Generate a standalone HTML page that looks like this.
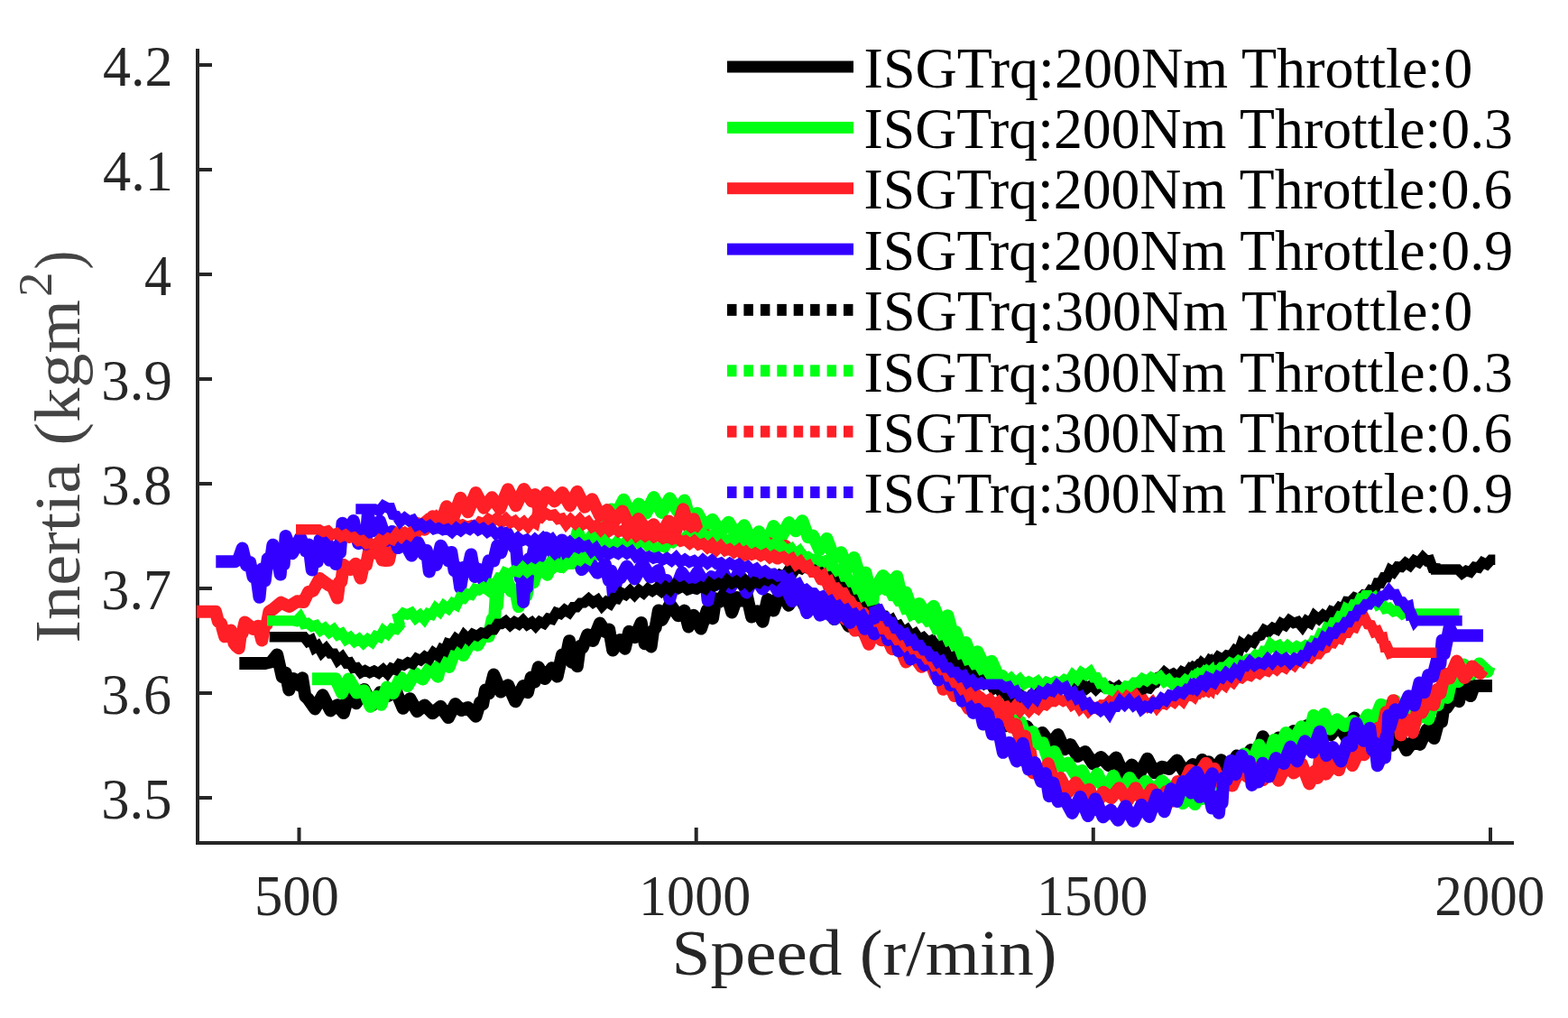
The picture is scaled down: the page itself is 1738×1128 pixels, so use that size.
<!DOCTYPE html><html><head><meta charset="utf-8"><title>Inertia vs Speed</title><style>html,body{margin:0;padding:0;background:#fff;overflow:hidden;}svg{display:block;}text{font-family:"Liberation Serif",serif;}</style></head><body>
<svg width="1738" height="1128" viewBox="0 0 1738 1128">
<rect width="1738" height="1128" fill="#fff"/>
<g stroke="#262626" stroke-width="4" fill="none">
<path d="M219 54V934H1678"/>
<path d="M219 72H235"/>
<path d="M219 188H235"/>
<path d="M219 304H235"/>
<path d="M219 420H235"/>
<path d="M219 536H235"/>
<path d="M219 652H235"/>
<path d="M219 768H235"/>
<path d="M219 884H235"/>
<path d="M331.5 934V917"/>
<path d="M771.7 934V917"/>
<path d="M1211.8 934V917"/>
<path d="M1652 934V917"/>
</g>
<path d="M265.3 735.0 L293.7 735.0 L301.0 733.2 L307.2 725.5 L312.8 750.2 L316.6 745.4 L320.3 764.4 L325.5 752.1 L331.9 759.4 L335.1 751.3 L338.3 771.5 L341.4 774.2 L349.1 785.4 L357.7 770.3 L366.3 787.4 L373.9 781.3 L380.9 790.1 L386.7 769.1 L394.7 779.2 L403.6 763.9 L412.4 781.6 L421.2 767.5 L430.0 771.0 L438.4 764.8 L446.7 784.8 L454.4 774.2 L462.2 788.2 L470.6 781.4 L479.4 790.3 L488.3 782.8 L497.0 795.1 L504.6 780.1 L511.5 786.9 L518.6 784.0 L527.5 793.7 L532.3 778.1 L535.1 780.4 L538.0 764.6 L542.0 768.2 L547.3 747.6 L555.1 766.5 L563.1 759.2 L571.3 777.3 L579.9 760.1 L584.9 767.2 L588.7 750.6 L592.6 755.7 L596.8 739.2 L604.1 751.9 L611.8 740.2 L617.6 749.6 L623.0 725.6 L627.0 730.1 L631.0 710.2 L634.0 734.0 L636.8 723.9 L639.8 738.2 L642.8 716.1 L645.8 717.4 L651.2 703.3 L657.3 709.9 L664.9 690.6 L671.2 700.2 L675.2 697.6 L679.2 720.5 L686.9 709.1 L692.7 718.7 L697.3 699.7 L703.6 706.2 L710.7 690.0 L714.7 713.3 L718.7 709.2 L721.6 716.4 L724.0 698.8 L726.6 695.5 L729.9 676.4 L733.7 686.9 L742.7 669.5 L751.7 682.2 L758.6 676.6 L763.2 694.5 L768.9 681.8 L777.0 696.6 L783.9 675.7 L790.0 685.2 L793.3 663.3 L797.1 667.0 L804.6 655.5 L811.2 678.5 L816.9 662.1 L822.3 665.5 L827.7 659.4 L833.1 683.5 L839.4 677.3 L845.4 688.8 L850.8 664.0 L857.4 676.6 L865.2 654.6 L874.1 670.7 L883.1 656.4 L891.9 671.6 L900.5 661.3 L908.6 674.0 L916.6 665.8 L924.7 686.1 L932.7 679.2 L940.8 693.7 L948.8 685.0 L956.8 700.6 L964.8 694.3 L969.0 704.1 L969.0 681.0 L973.5 695.7 L980.7 687.7 L987.9 701.8 L995.1 700.3 L1003.1 712.5 L1010.9 706.0 L1018.1 727.8 L1025.3 715.1 L1032.5 738.1 L1039.2 726.3 L1045.6 746.0 L1052.0 738.8 L1058.3 762.1 L1064.7 757.6 L1071.1 769.6 L1077.7 770.6 L1084.9 787.0 L1092.1 779.6 L1099.3 792.6 L1106.7 787.0 L1114.3 804.3 L1122.0 801.0 L1129.7 812.3 L1138.1 805.1 L1146.7 818.2 L1155.4 812.0 L1164.4 824.8 L1172.6 814.1 L1179.8 830.3 L1186.6 825.1 L1194.5 838.0 L1202.9 833.0 L1211.6 846.4 L1220.4 838.9 L1229.1 848.3 L1237.1 839.5 L1245.5 858.1 L1254.5 847.6 L1263.3 857.0 L1271.8 840.8 L1279.8 856.3 L1287.9 849.7 L1296.0 852.0 L1304.7 842.4 L1313.4 856.5 L1322.1 846.9 L1330.9 860.7 L1339.7 844.2 L1341.5 854.8 L1332.6 842.0 L1323.8 862.6 L1319.7 849.1 L1328.5 862.0 L1336.7 847.7 L1344.8 857.0 L1353.5 842.3 L1362.3 852.1 L1371.0 837.4 L1379.0 843.7 L1386.4 831.1 L1392.8 839.7 L1399.8 816.2 L1408.6 832.7 L1417.3 817.4 L1425.9 829.0 L1433.9 810.1 L1441.5 823.6 L1448.7 804.1 L1457.0 811.2 L1465.8 802.5 L1474.8 814.4 L1483.6 803.9 L1492.3 816.9 L1501.0 795.6 L1509.9 812.0 L1518.8 801.9 L1526.8 819.1 L1534.9 803.6 L1542.9 825.8 L1551.0 815.3 L1559.0 831.3 L1566.7 821.1 L1573.9 824.9 L1581.6 808.4 L1589.6 818.0 L1594.2 800.7 L1598.0 799.7 L1600.8 780.2 L1603.6 784.2 L1611.9 771.9 L1617.1 777.2 L1621.6 755.3 L1630.0 771.1 L1634.0 760.0 L1654.0 760.0" fill="none" stroke="#000000" stroke-width="14" stroke-linejoin="round" stroke-linecap="butt"/>
<path d="M346.0 752.3 L372.0 752.3 L379.0 768.0 L386.6 752.4 L395.4 767.4 L403.5 765.2 L410.6 782.7 L417.0 771.7 L422.6 780.7 L428.8 761.6 L435.7 768.2 L444.2 750.7 L451.7 760.0 L459.9 745.9 L468.5 752.6 L477.2 738.9 L485.2 749.7 L491.1 724.3 L497.9 738.9 L505.5 717.3 L513.5 726.0 L521.6 711.5 L529.6 714.7 L536.1 703.2 L541.7 705.0 L545.7 685.9 L548.0 687.7 L549.5 663.9 L551.0 671.1 L552.5 648.7 L554.8 651.5 L561.0 640.0 L566.4 654.8 L571.3 653.8 L574.9 672.1 L579.1 649.4 L583.5 659.8 L587.4 640.0 L591.3 645.3 L598.0 622.1 L606.6 636.7 L614.9 615.5 L621.9 628.0 L628.9 605.2 L634.7 612.3 L640.3 589.8 L647.7 606.8 L656.7 593.0 L664.5 601.5 L671.7 579.5 L675.2 585.7 L677.8 564.4 L682.4 571.0 L691.3 553.7 L699.8 572.3 L708.1 558.4 L716.2 568.6 L724.6 551.0 L733.4 567.9 L742.4 552.2 L751.1 566.2 L758.6 554.5 L765.6 578.1 L773.0 568.7 L781.0 583.2 L789.7 575.7 L798.7 589.6 L807.6 578.7 L816.6 593.1 L824.9 582.2 L833.3 599.8 L841.3 589.3 L849.4 605.2 L857.4 583.1 L866.0 594.9 L874.5 579.1 L882.0 588.3 L889.4 577.2 L895.8 595.3 L901.2 593.6 L908.4 609.2 L916.5 596.9 L924.5 618.1 L932.3 612.3 L939.5 629.6 L946.7 617.9 L953.9 641.1 L959.5 634.4 L964.3 654.3 L969.0 650.2 L969.9 652.4 L978.6 638.0 L987.2 647.5 L994.2 638.7 L998.8 659.1 L1004.1 656.4 L1011.3 677.6 L1018.8 668.9 L1026.9 681.3 L1034.9 671.8 L1042.9 691.2 L1050.4 682.2 L1055.3 700.3 L1059.5 700.3 L1064.9 716.6 L1070.5 712.0 L1076.9 729.3 L1083.5 722.2 L1091.5 738.9 L1099.1 732.7 L1106.3 748.9 L1110.8 749.3 L1113.6 771.2 L1116.5 767.1 L1119.3 783.2 L1122.2 779.9 L1125.0 801.9 L1131.1 799.9 L1138.1 818.6 L1144.6 810.9 L1150.2 824.2 L1155.9 823.4 L1162.2 842.2 L1168.6 832.9 L1176.2 849.3 L1183.9 845.5 L1191.7 857.9 L1199.4 853.9 L1207.7 871.8 L1216.3 857.5 L1225.1 876.9 L1234.1 859.7 L1243.0 878.4 L1252.0 861.9 L1261.0 876.2 L1270.0 865.8 L1279.0 877.7 L1288.0 865.3 L1296.9 874.3 L1304.9 868.2 L1311.2 890.0 L1317.6 883.5 L1324.5 891.0 L1331.5 872.8 L1338.9 879.8 L1343.0 867.0 L1334.4 883.3 L1325.8 871.3 L1317.5 885.7 L1325.5 876.7 L1332.7 885.0 L1338.3 868.6 L1344.0 871.9 L1352.0 861.5 L1359.2 862.0 L1364.8 848.6 L1370.5 848.4 L1379.1 835.4 L1387.5 846.4 L1395.6 825.6 L1404.1 843.2 L1412.3 819.7 L1418.6 827.9 L1425.4 812.0 L1434.1 820.2 L1442.4 805.3 L1450.5 815.8 L1456.1 792.7 L1461.8 802.5 L1467.8 791.1 L1474.2 807.7 L1481.8 797.3 L1490.5 804.1 L1499.5 799.0 L1508.0 805.3 L1516.1 792.3 L1523.4 798.6 L1530.6 780.7 L1538.6 784.2 L1546.1 776.6 L1552.5 791.1 L1559.3 788.5 L1567.3 803.2 L1575.4 789.9 L1583.4 796.8 L1588.6 777.2 L1593.6 781.3 L1598.8 760.2 L1604.4 772.9 L1610.0 747.6 L1616.3 755.2 L1622.7 736.5 L1630.9 747.0 L1639.7 735.5 L1648.7 744.1 L1650.7 738.3" fill="none" stroke="#00ff14" stroke-width="14" stroke-linejoin="round" stroke-linecap="butt"/>
<path d="M217.9 677.7 L239.0 677.7 L241.8 688.4 L245.1 691.2 L249.1 705.3 L256.0 698.6 L259.5 712.8 L262.3 716.2 L264.7 718.2 L266.7 703.6 L268.6 701.6 L271.4 689.5 L280.4 696.8 L286.2 693.7 L290.3 709.4 L293.0 693.5 L295.7 691.8 L298.4 677.6 L302.8 674.8 L311.5 667.7 L320.5 672.0 L329.4 666.3 L336.6 667.1 L342.0 655.8 L347.0 654.7 L354.4 641.0 L363.4 647.7 L368.9 650.5 L373.9 662.6 L376.1 645.1 L378.3 644.4 L380.8 626.0 L388.3 630.9 L394.3 624.7 L399.7 640.6 L403.0 626.0 L406.0 625.8 L409.4 608.6 L415.1 612.5 L419.7 608.7 L423.7 620.5 L427.6 621.1 L431.0 620.7 L434.7 603.6 L440.1 603.9 L446.5 590.9 L454.5 596.0 L462.6 580.1 L470.6 586.8 L479.4 572.3 L487.5 582.9 L494.9 561.2 L502.4 573.7 L510.4 551.8 L518.6 567.3 L527.4 545.9 L536.3 562.8 L545.3 551.3 L554.2 563.5 L563.0 542.3 L571.9 560.3 L580.7 542.0 L589.5 555.4 L593.0 548.1 L597.3 564.4 L605.9 545.8 L614.6 555.4 L623.5 546.0 L631.8 560.3 L639.8 544.8 L648.1 561.8 L656.4 553.2 L664.8 571.1 L673.1 565.1 L681.5 576.7 L690.0 566.5 L698.9 585.5 L707.7 575.1 L716.4 587.4 L724.5 581.3 L732.7 593.8 L741.2 577.5 L749.2 588.0 L757.3 564.3 L763.5 584.8 L768.9 575.2 L775.8 596.1 L783.0 593.6 L791.3 607.2 L799.7 600.7 L808.6 608.8 L817.4 600.6 L826.4 614.5 L835.4 604.3 L844.2 612.2 L852.9 602.3 L861.7 618.6 L870.6 605.1 L879.5 626.2 L887.8 614.5 L896.2 629.4 L903.7 621.7 L910.5 641.7 L916.7 633.4 L922.1 654.6 L927.1 647.8 L930.4 673.5 L933.8 665.5 L937.1 686.1 L941.2 680.0 L947.7 698.6 L955.2 694.5 L963.1 713.8 L969.0 697.7 L969.0 702.1 L972.0 693.6 L977.0 709.3 L982.0 704.1 L989.0 719.2 L996.2 714.6 L1004.3 733.4 L1012.6 726.4 L1021.4 738.8 L1029.5 729.1 L1036.7 748.0 L1041.2 742.7 L1045.6 763.8 L1050.8 754.7 L1058.0 771.0 L1065.5 770.4 L1073.6 785.1 L1082.1 769.8 L1090.8 786.7 L1099.3 779.1 L1107.9 795.1 L1114.5 788.9 L1120.9 805.5 L1126.2 802.6 L1131.2 820.3 L1136.0 815.4 L1139.1 835.8 L1142.1 834.0 L1145.2 856.5 L1148.3 853.8 L1154.7 861.5 L1161.8 846.1 L1168.1 865.7 L1175.2 861.9 L1183.6 878.1 L1192.3 867.3 L1200.5 878.6 L1207.3 874.7 L1214.5 892.2 L1222.9 877.8 L1231.7 884.2 L1240.7 873.3 L1249.7 887.4 L1258.6 873.2 L1267.5 889.0 L1276.5 874.9 L1284.8 886.3 L1292.7 877.0 L1299.1 887.7 L1305.4 865.9 L1311.8 869.7 L1318.2 855.8 L1326.6 863.1 L1335.4 850.7 L1344.3 862.3 L1336.8 845.7 L1328.0 860.3 L1319.1 853.4 L1323.8 870.4 L1331.7 856.7 L1338.9 867.7 L1345.9 851.7 L1352.2 866.7 L1358.7 862.5 L1365.9 870.6 L1373.7 853.0 L1382.4 860.6 L1391.1 851.0 L1399.9 864.1 L1408.9 852.7 L1417.2 864.8 L1425.3 848.4 L1434.1 856.6 L1442.8 846.4 L1451.3 868.4 L1457.5 854.3 L1460.3 861.9 L1463.2 837.5 L1469.7 857.7 L1477.7 847.2 L1484.0 853.3 L1490.4 829.5 L1499.0 848.1 L1506.4 832.1 L1512.0 836.3 L1517.6 819.4 L1522.6 821.3 L1527.6 806.6 L1532.2 809.0 L1536.3 789.1 L1540.3 794.7 L1544.2 776.2 L1547.1 797.1 L1549.9 788.1 L1552.8 814.4 L1558.8 797.2 L1565.9 811.7 L1570.9 787.6 L1575.9 789.6 L1583.5 774.6 L1589.3 780.9 L1592.8 764.1 L1596.4 768.3 L1601.3 746.5 L1606.7 751.6 L1614.8 732.6 L1623.3 751.0 L1631.9 738.4 L1640.6 746.1 L1644.0 741.7" fill="none" stroke="#ff1f26" stroke-width="14" stroke-linejoin="round" stroke-linecap="butt"/>
<path d="M239.3 622.3 L260.3 622.3 L264.4 619.6 L268.6 607.6 L273.1 626.4 L277.1 622.9 L280.6 639.4 L284.1 637.1 L287.5 661.8 L290.6 630.2 L293.7 643.4 L296.7 619.0 L299.6 624.0 L302.4 603.8 L305.2 622.8 L308.1 622.5 L310.7 636.6 L312.7 610.4 L314.7 625.2 L316.6 594.1 L324.1 613.2 L333.0 595.7 L338.9 610.6 L342.3 603.6 L345.7 631.5 L348.8 607.5 L351.7 622.3 L354.6 598.1 L357.7 605.5 L361.5 594.9 L365.3 620.8 L369.2 616.1 L372.1 625.0 L374.5 604.7 L377.0 612.3 L379.5 579.7 L385.1 593.3 L391.8 577.0 L397.3 602.2 L402.8 588.5 L405.5 602.8 L407.7 570.7 L413.3 588.3 L421.0 577.5 L428.2 599.1 L434.8 588.9 L441.2 607.1 L448.6 601.4 L456.2 615.6 L463.2 601.1 L469.5 614.3 L472.9 609.9 L475.8 633.4 L479.5 617.8 L483.6 625.9 L488.6 604.7 L497.0 621.4 L500.3 611.9 L503.6 632.3 L506.9 628.6 L510.2 651.3 L514.1 628.8 L518.0 633.0 L522.1 614.4 L526.4 639.0 L530.8 630.8 L536.4 644.4 L541.9 621.2 L547.2 621.6 L551.2 604.6 L555.2 612.5 L561.9 590.4 L570.4 607.4 L572.0 604.5 L573.6 624.5 L575.2 621.0 L576.8 640.8 L578.4 636.3 L580.1 667.1 L582.0 636.9 L584.1 651.0 L586.2 619.3 L588.8 626.5 L591.8 609.0 L596.8 621.7 L605.5 596.1 L614.3 615.8 L623.0 598.4 L631.7 622.2 L638.4 607.6 L644.8 631.1 L653.2 621.8 L662.1 634.7 L670.8 625.1 L674.9 643.3 L677.3 632.5 L679.9 659.2 L683.9 641.7 L687.9 640.2 L694.7 627.6 L703.5 641.4 L712.3 624.9 L721.0 639.6 L729.8 631.9 L735.2 654.7 L738.8 642.9 L742.3 663.5 L746.3 649.9 L750.3 649.0 L755.8 634.6 L764.6 646.9 L773.3 633.9 L780.3 645.8 L782.4 643.2 L784.6 665.3 L788.6 639.1 L792.6 648.3 L801.0 633.4 L809.8 650.8 L818.7 634.7 L827.5 656.4 L836.3 637.6 L845.1 652.5 L854.0 641.8 L862.4 655.0 L870.1 649.1 L878.0 666.1 L886.3 652.1 L894.4 679.1 L901.6 665.2 L908.9 681.7 L916.4 677.8 L925.0 685.9 L933.7 676.8 L942.2 689.9 L950.2 676.9 L958.5 696.7 L966.8 692.2 L969.0 702.4 L969.0 672.4 L972.8 696.2 L978.2 683.5 L984.4 709.0 L990.5 694.0 L996.2 721.5 L1001.8 707.2 L1009.3 730.4 L1017.0 723.2 L1024.7 736.9 L1032.4 724.7 L1039.9 753.5 L1047.1 734.6 L1053.6 759.3 L1060.0 749.8 L1066.4 776.7 L1072.7 762.6 L1078.7 789.9 L1084.3 777.5 L1089.8 802.5 L1094.8 790.5 L1099.8 813.6 L1105.5 802.6 L1111.9 833.8 L1118.9 822.9 L1126.9 843.4 L1133.7 823.8 L1140.1 852.5 L1147.0 845.1 L1154.2 865.9 L1158.9 857.1 L1162.9 882.2 L1167.4 867.6 L1172.8 888.1 L1179.7 884.7 L1188.4 900.9 L1197.4 883.0 L1206.0 904.0 L1214.0 885.2 L1222.6 905.3 L1231.2 897.5 L1239.2 908.8 L1247.7 893.2 L1256.4 909.9 L1265.2 891.8 L1273.9 904.9 L1282.6 880.7 L1290.6 899.3 L1298.1 874.1 L1304.4 888.0 L1311.5 866.0 L1320.2 878.6 L1328.9 863.7 L1337.6 882.9 L1343.9 857.3 L1335.2 873.7 L1326.4 855.6 L1317.7 865.0 L1323.5 864.5 L1329.8 883.1 L1338.1 869.6 L1343.5 895.6 L1347.5 882.9 L1351.0 900.8 L1352.8 881.0 L1354.6 889.5 L1356.3 861.8 L1359.5 864.8 L1364.5 842.9 L1369.5 858.0 L1376.4 837.3 L1381.9 850.4 L1384.7 843.7 L1387.6 869.9 L1390.4 861.5 L1394.9 866.6 L1399.5 845.7 L1406.3 860.6 L1414.3 840.1 L1423.1 846.0 L1430.4 827.6 L1437.7 843.4 L1446.4 821.3 L1454.8 833.6 L1462.9 810.7 L1470.2 837.1 L1477.4 828.0 L1486.4 843.5 L1493.3 822.8 L1498.3 826.3 L1503.3 801.4 L1511.5 820.8 L1518.3 806.8 L1521.1 831.0 L1524.0 823.1 L1526.8 848.2 L1532.5 835.3 L1535.0 839.5 L1536.4 816.2 L1537.8 822.1 L1539.2 792.8 L1540.5 806.0 L1546.4 786.3 L1553.3 789.8 L1561.3 771.2 L1567.7 781.5 L1573.4 756.5 L1578.7 767.2 L1583.3 747.9 L1588.2 749.6 L1594.2 726.1 L1596.4 735.4 L1598.6 709.4 L1600.8 724.3 L1606.6 695.6 L1610.7 704.3 L1644.0 704.3" fill="none" stroke="#3300ff" stroke-width="14" stroke-linejoin="round" stroke-linecap="butt"/>
<path d="M298.7 705.7 L337.0 705.7 L341.1 710.9 L345.1 708.9 L348.7 717.8 L352.2 715.4 L356.6 723.1 L361.5 718.3 L366.0 724.0 L370.2 724.1 L374.4 731.7 L379.2 727.8 L383.9 734.8 L387.7 734.0 L391.5 740.2 L395.7 739.6 L400.1 745.3 L404.7 742.8 L409.7 745.5 L414.7 743.2 L419.7 746.0 L424.7 741.8 L429.4 746.5 L433.9 740.4 L438.3 742.1 L442.8 736.0 L447.3 737.3 L452.3 733.9 L457.3 735.6 L461.8 729.7 L466.2 731.7 L470.9 727.4 L475.7 730.3 L480.5 723.1 L485.5 726.7 L489.4 719.4 L493.0 721.1 L496.5 713.0 L500.9 714.3 L505.3 707.7 L509.9 711.2 L514.5 703.6 L519.2 708.1 L524.0 702.5 L528.9 704.7 L533.9 701.0 L538.6 702.0 L543.1 697.7 L547.5 697.8 L551.7 691.3 L555.9 691.5 L560.6 688.2 L565.5 693.0 L570.3 689.0 L575.1 691.8 L579.8 687.3 L584.5 692.4 L589.4 689.4 L593.7 693.9 L598.3 688.8 L603.0 691.1 L607.6 685.2 L612.1 686.4 L616.6 678.7 L621.2 680.4 L626.0 675.7 L630.9 678.9 L635.3 672.8 L639.3 672.7 L643.3 668.1 L647.5 667.9 L652.5 663.5 L657.5 667.9 L662.4 664.7 L667.3 671.6 L672.1 666.7 L676.3 669.2 L680.3 662.9 L684.3 663.6 L688.7 656.7 L693.5 659.2 L698.4 654.4 L703.3 659.4 L708.3 653.8 L713.3 657.4 L718.2 652.3 L723.0 655.1 L727.9 651.7 L732.9 655.6 L737.9 650.3 L742.8 654.1 L747.7 648.3 L752.5 652.2 L757.4 649.6 L762.2 653.8 L767.1 652.0 L772.0 653.1 L776.9 650.1 L781.8 652.7 L786.7 646.0 L791.6 649.4 L796.5 646.3 L801.4 649.3 L806.2 642.9 L811.2 646.8 L816.2 643.7 L821.2 647.5 L826.1 643.3 L831.1 648.9 L835.9 644.8 L840.8 646.3 L845.6 641.1 L850.4 643.4 L855.1 638.9 L859.8 642.1 L864.6 636.7 L869.3 638.8 L874.1 631.5 L878.8 635.2 L883.4 628.4 L888.2 630.5 L892.9 626.2 L897.7 627.7 L902.6 622.8 L907.6 626.7 L911.5 625.4 L914.6 634.4 L917.9 632.1 L921.5 641.7 L925.0 640.1 L928.8 647.2 L932.8 645.6 L936.8 653.2 L940.8 652.7 L944.8 659.0 L948.8 659.1 L952.8 664.9 L957.1 662.7 L961.3 671.7 L965.5 668.9 L969.0 676.3 L972.4 676.0 L976.4 681.5 L980.4 682.1 L984.4 689.3 L988.4 686.6 L992.4 694.2 L996.5 692.7 L1001.0 700.3 L1005.4 697.4 L1009.9 704.5 L1014.4 701.7 L1018.9 708.3 L1023.4 706.1 L1028.3 711.3 L1033.1 709.1 L1037.3 716.0 L1040.9 714.4 L1044.4 721.9 L1047.9 720.8 L1051.8 729.5 L1055.8 727.9 L1059.8 733.9 L1063.8 734.0 L1067.8 740.5 L1071.8 739.7 L1075.8 747.0 L1079.8 745.3 L1083.8 753.5 L1087.8 751.4 L1092.1 758.2 L1096.6 756.4 L1101.1 763.6 L1105.4 760.7 L1109.7 767.7 L1114.0 765.8 L1118.3 774.2 L1123.1 770.0 L1128.0 776.7 L1132.9 771.3 L1137.7 776.4 L1142.5 770.7 L1147.2 772.3 L1152.0 766.7 L1156.7 771.0 L1161.3 764.1 L1165.9 766.5 L1170.5 759.6 L1175.1 762.8 L1180.1 758.5 L1185.1 761.9 L1190.0 756.6 L1195.0 760.8 L1199.9 757.6 L1204.7 762.9 L1209.6 759.0 L1214.6 764.0 L1219.6 759.1 L1224.6 762.5 L1229.6 760.5 L1234.6 763.5 L1239.5 760.2 L1244.3 765.1 L1249.2 762.5 L1254.2 767.3 L1259.2 764.1 L1264.1 766.5 L1269.0 762.0 L1273.8 763.0 L1277.6 758.1 L1280.7 756.9 L1283.9 750.2 L1287.0 748.8 L1290.7 744.6 L1295.6 748.6 L1300.4 746.2 L1305.3 749.9 L1310.1 744.2 L1315.0 746.5 L1319.5 740.1 L1324.0 741.6 L1328.4 736.8 L1333.4 739.3 L1338.3 735.6 L1343.3 737.9 L1341.8 734.4 L1336.8 739.8 L1331.9 738.2 L1327.0 742.2 L1322.1 739.8 L1317.5 743.7 L1322.4 738.8 L1327.2 741.4 L1331.9 734.5 L1336.4 738.3 L1340.9 731.4 L1345.5 734.1 L1350.3 727.7 L1355.2 730.5 L1359.8 726.0 L1364.3 727.1 L1368.8 720.5 L1372.7 722.8 L1376.2 712.9 L1380.4 715.7 L1384.9 709.6 L1389.4 712.0 L1393.5 705.5 L1397.5 704.2 L1401.5 698.0 L1405.8 700.2 L1410.7 695.6 L1415.5 697.8 L1420.1 690.6 L1424.6 693.1 L1429.1 687.3 L1433.8 690.4 L1438.6 688.8 L1443.5 694.7 L1448.0 688.0 L1452.5 690.6 L1457.0 682.2 L1461.8 686.1 L1466.6 681.3 L1471.4 684.5 L1475.9 677.1 L1480.4 678.6 L1484.7 672.9 L1488.7 674.7 L1492.7 666.5 L1496.7 666.9 L1501.5 662.0 L1506.3 663.8 L1511.1 659.1 L1515.1 660.2 L1519.1 653.9 L1523.1 655.1 L1526.7 646.1 L1530.3 646.2 L1533.8 639.8 L1537.3 639.8 L1540.9 631.7 L1544.5 634.1 L1549.0 627.8 L1553.4 628.4 L1558.0 623.7 L1562.8 626.9 L1567.7 620.9 L1572.5 623.3 L1577.2 617.5 L1581.5 621.7 L1584.8 620.9 L1588.0 629.6 L1591.2 629.8 L1591.3 631.0 L1616.0 631.0 L1620.6 635.6 L1625.2 632.3 L1629.8 633.9 L1634.4 628.2 L1638.9 629.1 L1643.3 623.3 L1648.0 625.5 L1652.7 620.3 L1657.3 620.3" fill="none" stroke="#000000" stroke-width="11.5" stroke-linejoin="miter" stroke-miterlimit="2" stroke-linecap="butt"/>
<path d="M296.0 687.7 L323.7 687.7 L328.3 688.5 L332.7 683.8 L336.8 691.3 L341.1 690.5 L345.8 694.3 L350.6 692.7 L355.3 698.6 L360.1 695.6 L365.0 700.8 L369.9 697.3 L374.4 703.5 L378.9 701.5 L383.6 708.7 L388.3 705.9 L393.1 711.1 L398.0 707.8 L402.8 712.7 L407.6 708.2 L412.3 711.5 L416.6 704.9 L420.8 706.3 L425.1 698.7 L429.9 702.5 L434.6 696.4 L439.4 697.4 L444.1 692.0 L443.6 693.8 L441.2 684.8 L442.9 684.3 L447.1 679.3 L451.4 681.0 L456.1 678.8 L460.8 685.0 L465.6 681.2 L470.3 686.3 L474.5 679.8 L478.6 681.1 L483.0 673.9 L487.5 677.8 L492.1 671.0 L497.0 674.6 L501.7 668.3 L505.9 670.7 L510.0 662.0 L514.2 663.2 L518.4 658.0 L522.5 659.1 L526.7 652.6 L530.9 653.9 L535.9 650.7 L540.8 654.3 L545.0 646.5 L549.2 646.8 L552.9 640.1 L556.4 640.5 L559.9 634.2 L564.7 636.2 L569.6 632.4 L574.6 633.9 L579.5 628.9 L584.5 633.6 L589.4 629.7 L594.4 632.4 L599.3 628.0 L604.2 629.3 L609.1 623.8 L614.1 629.0 L619.1 625.2 L624.1 628.4 L628.9 623.9 L633.5 624.9 L638.1 618.7 L642.8 621.0 L647.5 616.7 L652.3 619.5 L656.4 612.4 L660.4 614.3 L664.4 606.8 L668.8 609.2 L673.7 601.9 L678.5 606.0 L683.5 600.4 L688.5 605.2 L693.5 600.4 L698.3 604.7 L703.2 598.7 L708.0 602.4 L712.9 599.1 L717.7 604.6 L722.6 603.1 L727.4 607.9 L732.3 605.1 L736.8 606.7 L741.3 599.8 L745.8 601.5 L750.6 598.1 L755.4 598.8 L760.3 594.4 L765.3 598.3 L770.3 595.3 L775.2 598.0 L780.1 591.8 L784.9 595.1 L789.8 592.4 L794.6 598.4 L799.5 594.3 L804.3 599.2 L809.2 597.1 L814.0 601.7 L818.9 597.4 L823.7 599.0 L828.6 595.7 L833.4 601.2 L838.3 598.1 L843.1 603.3 L848.0 598.9 L852.8 606.3 L857.7 602.8 L862.5 608.0 L867.4 605.4 L872.2 609.9 L877.1 607.4 L881.7 613.8 L886.2 610.2 L890.7 617.0 L895.3 616.5 L900.2 620.3 L905.0 618.8 L909.6 622.5 L914.1 621.2 L918.6 627.1 L923.0 625.8 L927.5 632.2 L932.0 629.7 L935.7 638.9 L939.3 638.7 L942.8 644.4 L946.3 643.6 L949.9 652.5 L953.4 651.9 L956.9 660.0 L960.6 657.9 L964.7 665.6 L968.7 664.6 L969.0 663.0 L969.0 655.3 L971.9 655.4 L976.8 650.7 L981.6 654.1 L985.4 653.6 L988.9 660.5 L992.4 660.8 L996.0 666.3 L999.5 666.5 L1003.0 674.3 L1006.6 672.9 L1010.4 681.4 L1014.9 678.8 L1019.3 684.6 L1023.8 682.9 L1028.3 688.9 L1032.8 687.9 L1036.9 695.9 L1040.4 693.4 L1044.0 703.0 L1047.5 701.6 L1051.0 709.5 L1054.6 707.8 L1058.1 715.2 L1061.6 714.5 L1065.2 724.2 L1068.7 722.9 L1072.3 731.0 L1075.8 729.9 L1079.8 736.2 L1083.8 735.2 L1087.8 741.7 L1092.3 740.1 L1097.0 747.8 L1101.6 744.9 L1106.3 751.3 L1111.0 749.0 L1115.7 754.6 L1120.6 751.0 L1125.6 756.5 L1130.5 752.3 L1135.4 758.0 L1140.4 755.0 L1145.3 757.6 L1150.2 754.6 L1155.1 760.6 L1160.1 755.5 L1165.0 757.6 L1169.9 754.8 L1174.9 756.8 L1179.7 752.8 L1184.4 755.3 L1189.1 747.8 L1193.9 752.1 L1198.7 745.1 L1203.5 748.0 L1208.4 744.2 L1212.1 750.7 L1215.6 750.6 L1219.2 757.3 L1222.7 756.7 L1226.7 763.6 L1230.7 763.7 L1234.7 768.6 L1239.1 764.6 L1243.6 765.2 L1248.1 760.1 L1252.5 761.0 L1257.0 756.2 L1261.5 756.6 L1266.2 751.8 L1271.1 754.5 L1276.0 750.4 L1281.0 753.0 L1286.0 749.5 L1290.8 755.6 L1295.2 753.0 L1299.7 758.2 L1304.3 756.3 L1309.2 758.0 L1314.0 753.2 L1318.6 756.2 L1323.1 749.1 L1327.6 750.3 L1332.3 746.1 L1337.2 748.3 L1342.1 743.7 L1343.0 747.2 L1338.1 743.4 L1333.3 750.0 L1328.4 746.6 L1323.6 752.7 L1318.7 749.0 L1320.8 753.6 L1325.7 747.9 L1330.5 750.8 L1335.4 744.0 L1340.2 747.1 L1345.0 742.2 L1349.5 744.0 L1353.9 739.1 L1358.5 738.9 L1363.4 734.2 L1368.2 736.7 L1373.1 731.9 L1377.9 734.2 L1382.8 730.3 L1387.3 730.8 L1391.8 725.7 L1396.3 728.2 L1400.4 721.4 L1404.4 721.9 L1408.4 713.7 L1412.7 717.0 L1417.6 714.8 L1422.4 720.5 L1427.4 715.4 L1432.4 719.5 L1437.4 715.9 L1442.2 718.2 L1447.1 714.9 L1451.7 717.4 L1455.7 710.3 L1459.7 711.3 L1463.7 702.6 L1467.3 704.1 L1470.8 695.6 L1474.4 697.0 L1477.9 689.6 L1481.4 689.4 L1485.0 682.8 L1488.5 683.4 L1492.2 674.5 L1496.2 676.9 L1500.2 669.9 L1504.2 670.4 L1507.7 663.2 L1511.3 663.8 L1514.9 656.4 L1519.1 665.0 L1523.3 662.0 L1527.3 669.9 L1531.3 667.8 L1535.3 674.5 L1539.7 673.4 L1544.6 677.6 L1549.4 676.4 L1554.2 680.4 L1559.0 677.6 L1563.8 682.0 L1567.3 680.0 L1617.3 680.0" fill="none" stroke="#00ff14" stroke-width="11.5" stroke-linejoin="miter" stroke-miterlimit="2" stroke-linecap="butt"/>
<path d="M328.0 586.7 L353.7 586.7 L358.5 589.4 L363.4 588.0 L368.2 592.7 L373.1 590.6 L377.9 594.8 L382.8 592.3 L387.6 596.1 L392.3 595.0 L397.0 599.6 L401.7 598.6 L406.4 602.9 L411.2 602.1 L416.0 603.7 L420.9 597.9 L425.6 600.3 L430.3 596.2 L435.0 598.1 L439.8 591.2 L444.6 595.3 L449.5 590.1 L454.0 593.0 L458.5 586.7 L463.0 588.2 L466.3 580.2 L469.4 578.9 L473.9 575.2 L478.8 577.1 L483.8 572.2 L488.8 576.7 L493.7 573.8 L498.7 578.9 L503.3 576.5 L507.8 582.5 L512.5 581.0 L517.5 583.5 L522.4 581.9 L527.2 584.5 L531.9 578.4 L536.5 580.0 L541.4 575.0 L546.2 577.9 L551.1 573.7 L556.0 578.9 L560.9 574.6 L565.8 579.5 L570.7 576.9 L575.6 582.1 L580.5 578.1 L585.3 583.6 L590.0 577.9 L593.0 579.7 L594.8 571.9 L599.7 573.8 L604.6 568.4 L609.5 571.2 L614.0 570.2 L618.5 575.3 L623.0 574.2 L627.6 580.9 L632.5 575.5 L637.5 580.2 L642.5 575.2 L647.2 580.8 L651.8 578.0 L656.4 584.2 L661.2 581.7 L666.1 587.5 L671.0 582.5 L675.9 588.5 L680.8 585.1 L685.7 589.4 L690.6 587.0 L695.5 592.6 L700.5 587.5 L705.5 594.1 L710.4 590.4 L715.3 594.5 L720.2 591.4 L725.1 595.6 L730.1 593.5 L735.1 597.0 L740.1 595.3 L745.0 598.0 L749.9 595.4 L754.8 600.1 L759.7 598.6 L764.6 602.7 L769.5 599.0 L774.4 603.9 L779.3 602.1 L784.2 607.0 L789.1 602.9 L794.0 609.7 L798.9 604.9 L803.8 610.3 L808.7 608.0 L813.6 612.4 L818.5 608.8 L823.4 615.9 L828.4 612.4 L833.4 615.2 L838.3 613.2 L843.3 616.4 L848.3 613.6 L853.3 618.2 L858.2 615.1 L863.2 618.1 L868.1 616.5 L873.0 621.0 L877.8 618.4 L882.4 625.6 L887.1 621.8 L891.7 628.2 L896.0 626.4 L900.2 633.9 L904.3 633.3 L908.5 640.0 L912.6 637.1 L916.2 646.2 L919.8 644.0 L923.4 652.0 L927.5 651.3 L931.7 656.8 L935.4 656.7 L938.9 663.5 L942.5 665.2 L946.0 671.0 L949.6 672.1 L953.1 678.3 L957.3 678.6 L961.4 683.0 L965.1 684.5 L968.4 690.4 L969.0 684.2 L971.9 688.7 L975.5 688.5 L979.0 697.3 L982.6 697.4 L986.6 702.9 L990.6 702.9 L994.6 709.2 L998.9 708.9 L1003.4 715.1 L1007.8 711.2 L1012.0 719.1 L1016.0 718.3 L1020.0 724.2 L1024.0 725.2 L1028.0 730.8 L1032.0 730.8 L1036.0 738.0 L1040.0 737.1 L1044.0 742.0 L1048.0 741.1 L1051.6 749.7 L1055.2 750.0 L1058.7 756.8 L1062.2 757.4 L1066.2 763.3 L1070.2 761.0 L1074.2 770.2 L1078.5 767.3 L1083.0 773.4 L1087.5 772.6 L1092.2 777.0 L1097.0 774.3 L1101.9 780.3 L1106.5 777.3 L1111.2 783.4 L1115.8 782.4 L1120.6 787.8 L1125.6 781.8 L1130.6 787.9 L1135.6 782.2 L1140.6 787.8 L1145.6 782.4 L1150.4 785.6 L1154.9 780.0 L1159.4 781.5 L1164.0 777.1 L1168.8 777.5 L1173.7 774.1 L1178.5 777.1 L1183.4 774.4 L1188.2 781.3 L1192.7 778.3 L1197.2 785.5 L1201.7 781.5 L1206.6 788.1 L1211.6 783.3 L1216.5 785.9 L1221.0 781.0 L1225.5 781.3 L1230.0 776.8 L1234.9 779.2 L1239.7 772.7 L1244.6 777.3 L1249.4 771.3 L1254.3 774.4 L1258.8 770.5 L1263.3 776.5 L1267.8 775.3 L1272.5 782.2 L1277.4 777.7 L1282.2 784.3 L1287.1 778.5 L1291.9 780.5 L1296.8 775.3 L1301.6 778.4 L1306.5 772.9 L1311.2 777.1 L1315.6 769.9 L1320.1 771.2 L1324.6 764.1 L1329.1 767.5 L1333.5 761.6 L1338.2 762.3 L1343.2 759.2 L1342.1 764.2 L1337.5 760.4 L1332.9 766.2 L1328.3 764.2 L1323.7 772.2 L1319.1 768.5 L1320.1 771.9 L1324.6 765.9 L1329.0 766.9 L1333.8 763.4 L1338.6 766.2 L1343.5 759.4 L1348.3 762.7 L1353.2 756.3 L1358.0 759.9 L1362.4 752.9 L1366.9 756.4 L1371.4 750.2 L1376.3 751.6 L1381.1 747.6 L1386.0 749.2 L1390.8 744.4 L1395.7 746.8 L1400.5 742.4 L1405.4 744.1 L1410.2 738.7 L1415.1 742.2 L1419.9 737.5 L1424.8 740.3 L1429.6 733.9 L1434.5 737.5 L1439.2 731.0 L1443.7 733.8 L1448.1 727.5 L1452.6 729.4 L1457.1 724.3 L1461.6 724.7 L1465.8 719.1 L1469.8 718.1 L1473.8 711.6 L1477.8 712.5 L1481.8 706.4 L1485.8 707.9 L1489.8 700.2 L1493.8 700.9 L1497.8 694.3 L1501.8 695.4 L1505.6 687.4 L1509.1 687.5 L1512.7 684.9 L1516.2 691.9 L1519.7 692.6 L1523.3 700.3 L1526.8 699.1 L1530.3 706.8 L1532.7 706.4 L1534.9 716.6 L1537.2 716.2 L1540.6 723.9 L1542.3 723.3 L1592.3 723.3" fill="none" stroke="#ff1f26" stroke-width="11.5" stroke-linejoin="miter" stroke-miterlimit="2" stroke-linecap="butt"/>
<path d="M394.3 564.0 L415.3 564.0 L420.2 566.3 L425.0 560.3 L429.7 562.9 L432.8 562.8 L435.5 570.4 L439.1 571.3 L443.6 578.2 L448.6 573.7 L453.6 577.4 L457.7 575.8 L461.9 582.4 L466.5 580.4 L471.3 584.8 L476.2 582.0 L481.1 586.5 L486.1 584.8 L491.0 587.6 L496.0 586.0 L500.9 589.8 L505.9 584.8 L510.7 588.3 L515.6 584.3 L520.5 586.8 L525.4 582.8 L530.4 587.6 L535.4 585.0 L540.3 589.6 L545.2 586.4 L550.0 592.0 L554.7 589.5 L559.4 595.6 L564.2 592.8 L569.1 599.3 L573.9 595.4 L578.8 599.4 L583.8 597.4 L588.8 601.4 L593.0 597.2 L597.1 600.7 L602.1 595.8 L607.0 600.7 L611.9 597.1 L616.7 603.9 L621.6 600.4 L626.6 604.2 L631.5 600.2 L636.5 604.9 L641.5 601.7 L646.4 606.0 L651.1 604.3 L655.8 611.0 L660.5 607.1 L665.3 614.3 L670.2 610.6 L675.1 614.3 L680.0 611.3 L685.0 613.9 L690.0 610.1 L694.9 613.7 L699.9 610.4 L704.7 616.6 L709.6 613.3 L714.5 618.2 L719.4 616.1 L724.4 618.9 L729.4 617.1 L734.3 620.7 L739.3 618.1 L744.3 621.7 L749.3 617.2 L754.3 623.1 L759.2 619.6 L764.2 623.1 L769.2 620.9 L774.1 625.0 L779.1 620.1 L784.1 624.6 L789.1 620.7 L794.1 625.0 L799.0 623.3 L804.0 627.4 L808.9 623.7 L813.9 627.1 L818.9 624.7 L823.7 629.0 L828.6 627.1 L833.4 632.0 L838.3 629.5 L843.1 634.8 L848.0 632.3 L852.8 635.9 L857.7 635.2 L862.4 638.7 L867.1 637.4 L871.8 642.9 L876.2 640.9 L880.4 648.3 L884.6 646.4 L889.0 654.5 L893.5 652.7 L898.0 656.6 L902.4 656.9 L906.9 662.0 L911.4 660.3 L915.9 667.4 L920.3 665.4 L924.8 672.4 L929.3 670.7 L933.7 676.5 L938.2 674.7 L942.7 681.1 L947.2 679.6 L951.6 685.8 L956.2 682.0 L960.8 689.8 L965.4 686.3 L969.0 690.1 L969.0 680.7 L969.0 680.7 L969.0 672.9 L971.0 675.9 L974.5 675.2 L978.1 682.6 L981.6 683.1 L985.1 688.8 L988.7 689.1 L992.2 696.7 L995.7 697.3 L999.7 703.2 L1003.7 701.8 L1007.7 709.9 L1011.7 708.5 L1015.7 715.1 L1019.7 714.7 L1023.7 720.7 L1027.7 721.1 L1031.7 727.3 L1035.7 727.4 L1039.7 733.9 L1043.7 731.9 L1047.7 739.7 L1051.7 739.6 L1055.7 745.0 L1059.7 744.6 L1063.9 750.1 L1068.4 748.2 L1072.8 756.2 L1077.5 753.4 L1082.3 759.2 L1087.2 756.6 L1089.0 758.3 L1109.0 758.3 L1113.5 761.9 L1117.9 760.7 L1122.4 767.7 L1126.4 765.7 L1130.4 771.8 L1134.4 771.8 L1139.0 777.2 L1143.8 770.3 L1148.7 774.8 L1153.2 766.4 L1157.7 768.6 L1162.1 763.6 L1167.0 766.0 L1171.8 759.4 L1176.6 763.8 L1181.1 761.3 L1185.5 769.5 L1189.9 767.0 L1193.9 774.3 L1197.9 771.9 L1201.9 780.7 L1206.3 778.8 L1210.8 785.4 L1215.3 783.6 L1220.1 787.8 L1224.9 784.2 L1229.6 790.7 L1233.6 783.3 L1237.6 783.3 L1241.6 776.6 L1246.5 781.2 L1251.5 775.9 L1256.4 781.8 L1260.9 778.4 L1265.3 786.0 L1269.8 782.3 L1274.3 784.0 L1278.7 778.3 L1283.2 779.9 L1287.7 773.6 L1292.2 776.3 L1296.7 770.0 L1301.6 771.1 L1306.4 766.4 L1311.1 768.7 L1315.6 763.3 L1320.0 763.9 L1324.5 757.8 L1329.0 759.8 L1333.5 754.6 L1337.9 756.6 L1342.3 749.4 L1343.3 752.4 L1338.9 750.3 L1334.5 757.5 L1330.1 756.4 L1325.7 763.6 L1321.3 760.1 L1317.8 767.4 L1322.2 761.2 L1326.7 763.1 L1331.2 756.0 L1336.1 759.8 L1340.9 754.1 L1345.6 756.9 L1350.1 749.2 L1354.6 751.4 L1359.2 745.5 L1364.0 749.4 L1368.9 742.2 L1373.2 746.2 L1377.2 737.4 L1381.2 738.2 L1385.5 732.7 L1390.5 737.5 L1395.5 734.0 L1400.4 736.1 L1405.3 730.1 L1410.1 734.8 L1415.1 728.6 L1420.1 732.6 L1425.1 729.4 L1430.1 734.6 L1435.1 729.3 L1439.5 731.6 L1443.5 726.2 L1447.5 727.1 L1451.5 718.1 L1455.5 720.4 L1459.5 713.3 L1463.5 714.8 L1467.5 706.2 L1471.5 708.6 L1475.5 700.8 L1479.5 701.6 L1483.5 695.5 L1487.5 695.7 L1491.4 689.3 L1495.0 689.4 L1498.5 682.8 L1502.0 682.8 L1505.8 675.4 L1509.8 675.1 L1513.8 669.6 L1517.8 669.8 L1522.3 664.0 L1526.8 666.3 L1531.2 660.3 L1535.4 659.8 L1539.5 654.3 L1543.2 658.8 L1546.8 658.5 L1550.3 665.7 L1554.4 666.6 L1558.6 672.4 L1561.5 671.4 L1563.3 681.5 L1565.0 681.2 L1568.2 688.6 L1569.0 687.7 L1620.7 687.7" fill="none" stroke="#3300ff" stroke-width="11.5" stroke-linejoin="miter" stroke-miterlimit="2" stroke-linecap="butt"/>
<text x="114.1" y="94.6" font-size="62.5" fill="#262626" textLength="77.5" lengthAdjust="spacingAndGlyphs">4.2</text>
<text x="114.1" y="210.6" font-size="62.5" fill="#262626" textLength="77.9" lengthAdjust="spacingAndGlyphs">4.1</text>
<text x="159.9" y="326.6" font-size="62.5" fill="#262626" textLength="30.0" lengthAdjust="spacingAndGlyphs">4</text>
<text x="112.3" y="442.6" font-size="62.5" fill="#262626" textLength="78.5" lengthAdjust="spacingAndGlyphs">3.9</text>
<text x="112.3" y="558.6" font-size="62.5" fill="#262626" textLength="78.3" lengthAdjust="spacingAndGlyphs">3.8</text>
<text x="112.3" y="674.6" font-size="62.5" fill="#262626" textLength="77.7" lengthAdjust="spacingAndGlyphs">3.7</text>
<text x="112.3" y="790.6" font-size="62.5" fill="#262626" textLength="77.7" lengthAdjust="spacingAndGlyphs">3.6</text>
<text x="112.3" y="906.6" font-size="62.5" fill="#262626" textLength="78.3" lengthAdjust="spacingAndGlyphs">3.5</text>
<text x="281.9" y="1014.2" font-size="62.5" fill="#262626" textLength="94.1" lengthAdjust="spacingAndGlyphs">500</text>
<text x="708.1" y="1014.2" font-size="62.5" fill="#262626" textLength="124.1" lengthAdjust="spacingAndGlyphs">1000</text>
<text x="1149.0" y="1014.2" font-size="62.5" fill="#262626" textLength="123.4" lengthAdjust="spacingAndGlyphs">1500</text>
<text x="1590.3" y="1014.2" font-size="62.5" fill="#262626" textLength="121.9" lengthAdjust="spacingAndGlyphs">2000</text>
<text x="744.6" y="1079.7" font-size="72" fill="#262626" textLength="427.0" lengthAdjust="spacingAndGlyphs">Speed (r/min)</text>
<g transform="rotate(-90)">
<text x="-712.4" y="88.3" font-size="72" fill="#444444" textLength="380.4" lengthAdjust="spacingAndGlyphs">Inertia (kgm</text>
<text x="-328.9" y="57.1" font-size="52" fill="#444444" textLength="27.6" lengthAdjust="spacingAndGlyphs">2</text>
<text x="-298.6" y="88.3" font-size="72" fill="#444444" textLength="20.7" lengthAdjust="spacingAndGlyphs">)</text>
</g>
<rect x="806" y="67.5" width="140" height="13" fill="#000"/>
<text x="957.6" y="96.7" font-size="63.3" fill="#000" textLength="674.6" lengthAdjust="spacingAndGlyphs">ISGTrq:200Nm Throttle:0</text>
<rect x="806" y="134.9" width="140" height="13" fill="#00ff14"/>
<text x="957.6" y="164.1" font-size="63.3" fill="#000" textLength="719.4" lengthAdjust="spacingAndGlyphs">ISGTrq:200Nm Throttle:0.3</text>
<rect x="806" y="202.2" width="140" height="13" fill="#ff1f26"/>
<text x="957.6" y="231.4" font-size="63.3" fill="#000" textLength="718.8" lengthAdjust="spacingAndGlyphs">ISGTrq:200Nm Throttle:0.6</text>
<rect x="806" y="269.6" width="140" height="13" fill="#3300ff"/>
<text x="957.6" y="298.8" font-size="63.3" fill="#000" textLength="719.5" lengthAdjust="spacingAndGlyphs">ISGTrq:200Nm Throttle:0.9</text>
<rect x="806.0" y="336.9" width="10.5" height="13" fill="#000"/>
<rect x="824.4" y="336.9" width="10.5" height="13" fill="#000"/>
<rect x="842.9" y="336.9" width="10.5" height="13" fill="#000"/>
<rect x="861.3" y="336.9" width="10.5" height="13" fill="#000"/>
<rect x="879.7" y="336.9" width="10.5" height="13" fill="#000"/>
<rect x="898.1" y="336.9" width="10.5" height="13" fill="#000"/>
<rect x="916.6" y="336.9" width="10.5" height="13" fill="#000"/>
<rect x="935.0" y="336.9" width="10.5" height="13" fill="#000"/>
<text x="957.6" y="366.1" font-size="63.3" fill="#000" textLength="674.6" lengthAdjust="spacingAndGlyphs">ISGTrq:300Nm Throttle:0</text>
<rect x="806.0" y="404.3" width="10.5" height="13" fill="#00ff14"/>
<rect x="824.4" y="404.3" width="10.5" height="13" fill="#00ff14"/>
<rect x="842.9" y="404.3" width="10.5" height="13" fill="#00ff14"/>
<rect x="861.3" y="404.3" width="10.5" height="13" fill="#00ff14"/>
<rect x="879.7" y="404.3" width="10.5" height="13" fill="#00ff14"/>
<rect x="898.1" y="404.3" width="10.5" height="13" fill="#00ff14"/>
<rect x="916.6" y="404.3" width="10.5" height="13" fill="#00ff14"/>
<rect x="935.0" y="404.3" width="10.5" height="13" fill="#00ff14"/>
<text x="957.6" y="433.5" font-size="63.3" fill="#000" textLength="719.4" lengthAdjust="spacingAndGlyphs">ISGTrq:300Nm Throttle:0.3</text>
<rect x="806.0" y="471.7" width="10.5" height="13" fill="#ff1f26"/>
<rect x="824.4" y="471.7" width="10.5" height="13" fill="#ff1f26"/>
<rect x="842.9" y="471.7" width="10.5" height="13" fill="#ff1f26"/>
<rect x="861.3" y="471.7" width="10.5" height="13" fill="#ff1f26"/>
<rect x="879.7" y="471.7" width="10.5" height="13" fill="#ff1f26"/>
<rect x="898.1" y="471.7" width="10.5" height="13" fill="#ff1f26"/>
<rect x="916.6" y="471.7" width="10.5" height="13" fill="#ff1f26"/>
<rect x="935.0" y="471.7" width="10.5" height="13" fill="#ff1f26"/>
<text x="957.6" y="500.9" font-size="63.3" fill="#000" textLength="718.8" lengthAdjust="spacingAndGlyphs">ISGTrq:300Nm Throttle:0.6</text>
<rect x="806.0" y="539.0" width="10.5" height="13" fill="#3300ff"/>
<rect x="824.4" y="539.0" width="10.5" height="13" fill="#3300ff"/>
<rect x="842.9" y="539.0" width="10.5" height="13" fill="#3300ff"/>
<rect x="861.3" y="539.0" width="10.5" height="13" fill="#3300ff"/>
<rect x="879.7" y="539.0" width="10.5" height="13" fill="#3300ff"/>
<rect x="898.1" y="539.0" width="10.5" height="13" fill="#3300ff"/>
<rect x="916.6" y="539.0" width="10.5" height="13" fill="#3300ff"/>
<rect x="935.0" y="539.0" width="10.5" height="13" fill="#3300ff"/>
<text x="957.6" y="568.2" font-size="63.3" fill="#000" textLength="719.5" lengthAdjust="spacingAndGlyphs">ISGTrq:300Nm Throttle:0.9</text>
</svg></body></html>
